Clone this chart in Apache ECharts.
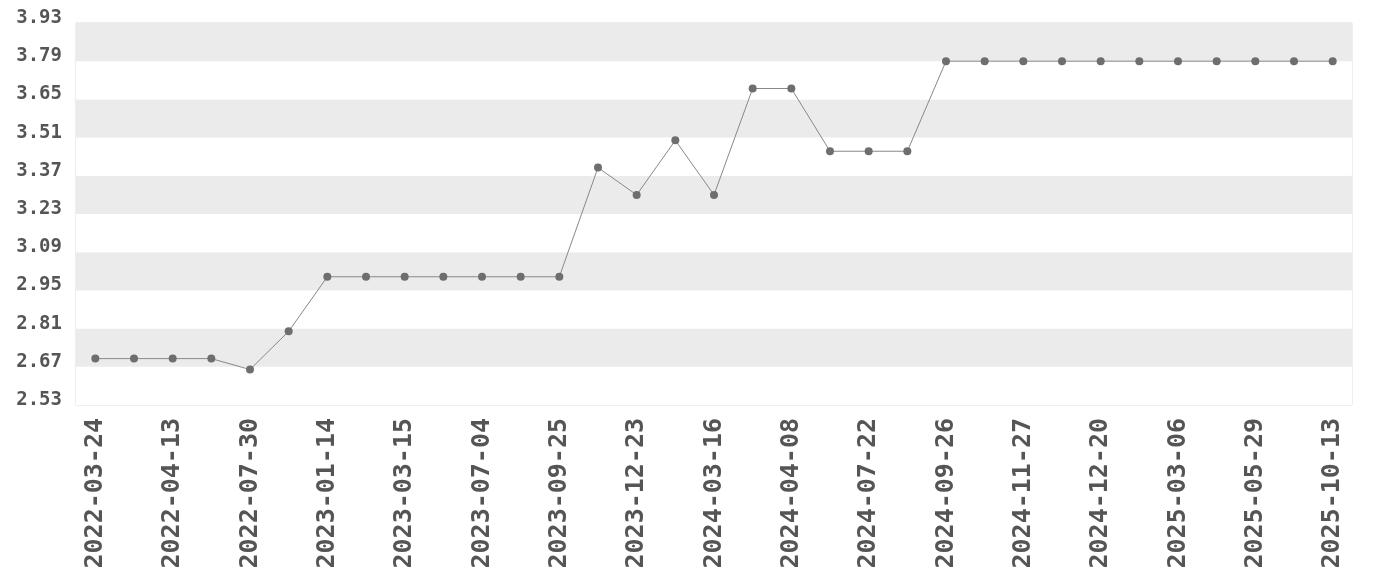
<!DOCTYPE html>
<html>
<head>
<meta charset="utf-8">
<script src="https://cdn.jsdelivr.net/npm/echarts@6/dist/echarts.min.js"></script>
<style>html,body{margin:0;padding:0;background:#fff}#c{width:1380px;height:580px}</style>
</head>
<body>
<div id="c"></div>
<script>
const categories = [
  '2022-03-24','2022-04-02','2022-04-13','2022-06-15','2022-07-30','2022-10-20',
  '2023-01-14','2023-02-10','2023-03-15','2023-05-20','2023-07-04','2023-08-15',
  '2023-09-25','2023-11-10','2023-12-23','2024-02-05','2024-03-16','2024-03-28',
  '2024-04-08','2024-05-30','2024-07-22','2024-08-20','2024-09-26','2024-10-25',
  '2024-11-27','2024-12-08','2024-12-20','2025-01-25','2025-03-06','2025-04-15',
  '2025-05-29','2025-07-20','2025-10-13'
];
const values = [
  2.70, 2.70, 2.70, 2.70, 2.66, 2.80,
  3.00, 3.00, 3.00, 3.00, 3.00, 3.00,
  3.00, 3.40, 3.30, 3.50, 3.30, 3.69,
  3.69, 3.46, 3.46, 3.46, 3.79, 3.79,
  3.79, 3.79, 3.79, 3.79, 3.79, 3.79,
  3.79, 3.79, 3.79
];
const yMin = 2.53, yMax = 3.93, yStep = 0.14;

const chart = echarts.init(document.getElementById('c'), null, {renderer: 'canvas'});
chart.setOption({
  animation: false,
  grid: {left: 76, right: 28, top: 23, bottom: 175, show: true, borderColor: '#dddddd', borderWidth: 1, backgroundColor: 'transparent'},
  xAxis: {
    type: 'category',
    data: categories,
    boundaryGap: true,
    axisLine: {show: false},
    axisTick: {show: false},
    splitLine: {show: false},
    axisLabel: {
      interval: 1,
      rotate: 90,
      margin: 13,
      color: '#555555',
      fontFamily: 'DejaVu Sans Mono',
      fontWeight: 'bold',
      fontSize: 25
    }
  },
  yAxis: {
    type: 'value',
    min: yMin,
    max: yMax,
    interval: yStep,
    axisLine: {show: false},
    axisTick: {show: false},
    splitLine: {show: false},
    splitArea: {show: true, areaStyle: {color: ['#ffffff', '#ebebeb']}},
    axisLabel: {
      margin: 14,
      color: '#555555',
      fontFamily: 'DejaVu Sans Mono',
      fontWeight: 'bold',
      fontSize: 19,
      verticalAlign: 'bottom',
      lineHeight: 10,
      formatter: v => v.toFixed(2)
    }
  },
  series: [{
    type: 'line',
    data: values,
    symbol: 'circle',
    symbolSize: 8,
    itemStyle: {color: '#6e6e6e'},
    lineStyle: {color: '#888888', width: 1}
  }]
});
</script>
</body>
</html>
